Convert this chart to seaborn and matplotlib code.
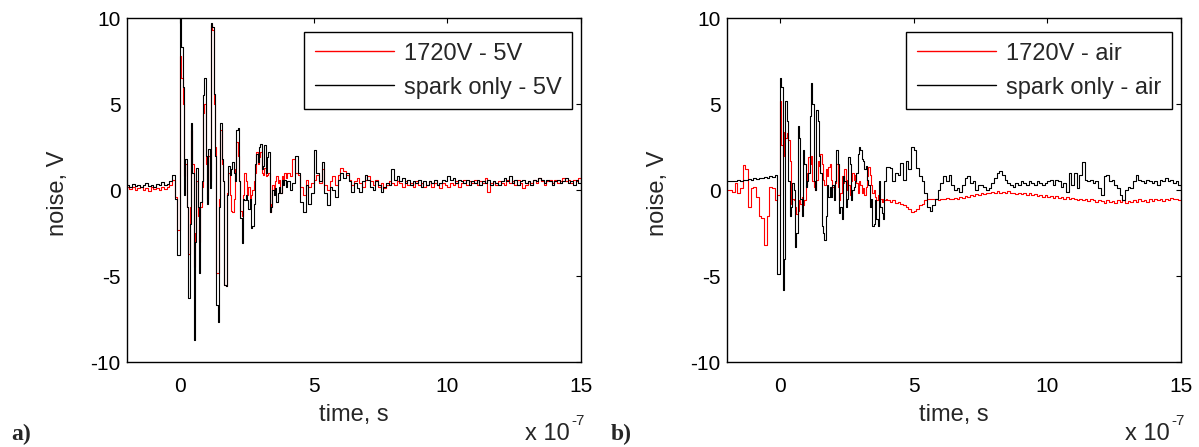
import matplotlib
matplotlib.use("Agg")
import matplotlib.pyplot as plt
import seaborn as sns
import pandas as pd

# ---------------- data (time in units of 1e-7 s, noise in V) ----------------
t_pre = [-2.0, -1.9, -1.8, -1.7, -1.6, -1.5, -1.4, -1.3, -1.2, -1.1,
         -1.0, -0.9, -0.8, -0.7, -0.6, -0.5, -0.4, -0.3, -0.2, -0.1]
t_burst = [0.00, 0.05, 0.10, 0.15, 0.20, 0.25, 0.30, 0.35, 0.40, 0.45,
           0.50, 0.55, 0.60, 0.65, 0.70, 0.75, 0.80, 0.85, 0.90, 0.95,
           1.00, 1.05, 1.10, 1.15, 1.20, 1.25, 1.30, 1.35, 1.40, 1.45,
           1.50, 1.55, 1.60, 1.65, 1.70, 1.75, 1.80, 1.85, 1.90, 1.95,
           2.00, 2.05, 2.10, 2.15, 2.20, 2.25, 2.30, 2.35, 2.40, 2.45,
           2.50, 2.55, 2.60, 2.65, 2.70, 2.75, 2.80, 2.85, 2.90, 2.95,
           3.00, 3.05, 3.10, 3.15, 3.20, 3.25, 3.30, 3.35, 3.40, 3.45,
           3.50, 3.55, 3.60, 3.65, 3.70, 3.75, 3.80, 3.85, 3.90, 3.95]
t_tail = [4.0, 4.1, 4.2, 4.3, 4.4, 4.5, 4.6, 4.7, 4.8, 4.9,
          5.0, 5.1, 5.2, 5.3, 5.4, 5.5, 5.6, 5.7, 5.8, 5.9,
          6.0, 6.1, 6.2, 6.3, 6.4, 6.5, 6.6, 6.7, 6.8, 6.9,
          7.0, 7.1, 7.2, 7.3, 7.4, 7.5, 7.6, 7.7, 7.8, 7.9,
          8.0, 8.1, 8.2, 8.3, 8.4, 8.5, 8.6, 8.7, 8.8, 8.9,
          9.0, 9.1, 9.2, 9.3, 9.4, 9.5, 9.6, 9.7, 9.8, 9.9,
          10.0, 10.1, 10.2, 10.3, 10.4, 10.5, 10.6, 10.7, 10.8, 10.9,
          11.0, 11.1, 11.2, 11.3, 11.4, 11.5, 11.6, 11.7, 11.8, 11.9,
          12.0, 12.1, 12.2, 12.3, 12.4, 12.5, 12.6, 12.7, 12.8, 12.9,
          13.0, 13.1, 13.2, 13.3, 13.4, 13.5, 13.6, 13.7, 13.8, 13.9,
          14.0, 14.1, 14.2, 14.3, 14.4, 14.5, 14.6, 14.7, 14.8, 14.9,
          15.0]

# panel a) : 1720V - 5V (red) and spark only - 5V (black)
red_a_pre = [0.2, 0.05, 0.15, 0.0, 0.1, 0.2, 0.0, 0.1, -0.05, 0.15,
             0.05, 0.1, 0.0, 0.15, 0.05, 0.2, 0.3, 0.6, -0.4, -2.3]
red_a_burst = [7.8, 6.5, 5.0, 0.8, 1.5, -1.0, -3.7, -1.0, 3.5, 1.5,
               -4.5, -2.5, 0.5, -1.5, -3.0, -1.0, 0.2, 4.5, 5.0, 1.5,
               -0.5, 2.0, 0.5, 9.6, 9.3, 5.0, 2.5, -4.8, -4.8, -0.5,
               3.5, 1.5, 0.5, -5.5, -5.6, -0.2, 1.0, -0.3, -1.2, -1.3,
               -0.5, 1.2, 2.8, 2.0, 0.5, -1.2, -1.5, -0.3, 1.0, 0.5,
               -0.3, 0.2, -0.5, -0.3, 0.0, 0.5, 1.0, 2.2, 1.5, 1.9,
               2.2, 1.0, 0.9, 1.3, 0.8, 0.9, 1.0, -1.3, -0.8, 0.3,
               0.0, 0.5, 0.8, 0.4, 0.6, -0.2, 0.8, 0.5, 1.0, 0.7]
red_a_tail = [1.0, 0.8, 1.8, 1.0, 0.9, 0.2, -0.3, 0.6, 0.2, 0.4,
              0.6, 0.9, 0.4, 1.2, 0.3, 0.0, 0.5, 0.8, 0.3, 0.9,
              1.3, 1.1, 0.9, 0.6, 0.3, 0.5, 0.7, 0.4, 0.2, 0.6,
              0.8, 0.5, 0.3, 0.6, 0.2, 0.4, 0.1, 0.3, 0.5, 0.4,
              0.3, 0.5, 0.4, 0.2, 0.5, 0.3, 0.4, 0.2, 0.5, 0.3,
              0.4, 0.2, 0.3, 0.5, 0.2, 0.4, 0.3, 0.1, 0.4, 0.3,
              0.2, 0.4, 0.3, 0.5, 0.2, 0.4, 0.6, 0.3, 0.5, 0.4,
              0.6, 0.3, 0.5, 0.4, 0.7, -0.1, 0.4, 0.5, 0.3, 0.5,
              0.4, 0.3, 0.6, 0.4, 0.5, 0.3, 0.6, 0.4, 0.1, 0.3,
              0.5, 0.4, 0.6, 0.4, 0.7, 0.5, 0.3, 0.5, 0.6, 0.4,
              0.6, 0.4, 0.5, 0.7, 0.5, 0.6, 0.4, 0.6, 0.5, 0.7,
              0.6]
black_a_pre = [0.3, 0.2, 0.35, 0.25, 0.3, 0.15, 0.3, 0.4, 0.25, 0.3,
               0.2, 0.35, 0.3, 0.45, 0.3, 0.35, 0.5, 0.9, -0.5, -3.8]
black_a_burst = [10.0, 8.3, 6.0, -0.3, 1.8, -1.0, -6.3, -2.0, 3.9, 1.0,
                 -8.7, -3.0, 1.3, -1.0, -4.8, -0.7, 0.5, 5.5, 6.5, 2.0,
                 -0.8, 2.4, 0.1, 9.7, 9.5, 5.6, 2.0, -6.7, -7.7, -1.0,
                 3.9, 1.8, 0.5, -5.5, -5.6, -0.3, 1.4, 0.9, 1.2, 1.6,
                 1.0, 0.5, 3.5, 3.6, 0.5, -1.6, -3.1, -0.5, -0.6, -0.3,
                 -0.6, -1.1, -0.5, -2.2, -2.1, -0.8, 1.5, 2.1, 1.6, 2.5,
                 2.7, 1.2, 1.4, 2.6, 1.0, 1.9, 2.2, -1.3, -1.0, 0.0,
                 -0.3, 0.1, -0.7, -0.2, 0.2, -0.2, 0.6, 0.3, 0.6, 0.2]
black_a_tail = [0.5, 0.0, 0.4, 2.0, 1.0, -0.7, -1.3, 0.3, -0.8, -0.2,
                2.3, 1.0, 0.5, 1.6, -0.2, -0.9, 0.2, 0.0, -0.4, 0.6,
                1.0, 0.7, 1.0, 0.5, -0.1, 0.4, 0.1, -0.1, 0.5, 0.9,
                0.6, 0.2, 0.0, 0.5, 0.3, -0.1, 0.2, 0.4, 0.3, 1.2,
                0.6, 0.8, 0.5, 0.7, 0.4, 0.6, 0.3, 0.5, 0.4, 0.6,
                0.2, 0.5, 0.3, 0.5, 0.4, 0.6, 0.3, 0.4, 0.6, 0.5,
                0.8, 0.6, 0.7, 0.4, 0.6, 0.5, 0.4, 0.6, 0.3, 0.5,
                0.4, 0.6, 0.3, 0.5, 0.4, 0.6, 0.3, 0.5, 0.4, 0.3,
                0.5, 0.7, 0.5, 0.8, 0.4, 0.6, 0.3, 0.5, 0.6, 0.4,
                0.5, 0.3, 0.6, 0.5, 0.7, 0.6, 0.4, 0.6, 0.5, 0.3,
                0.5, 0.6, 0.4, 0.5, 0.7, 0.4, 0.5, 0.3, 0.6, 0.4,
                0.5]

# panel b) : 1720V - air (red) and spark only - air (black)
red_b_pre = [0.0, 0.0, -0.1, 0.4, -0.2, 0.1, 1.45, 1.2, -1.0, 0.1,
             0.2, -0.4, -1.5, -1.6, -3.2, -1.5, 0.2, 0.1, -0.6, -0.3]
red_b_burst = [5.2, 2.6, 2.0, 3.4, 3.0, 3.3, 2.9, 1.7, -0.8, -0.5,
               -0.6, -1.0, -1.4, -1.2, -0.6, -0.8, -0.4, -0.9, -0.6, 0.3,
               1.0, 1.9, 1.5, 2.0, 0.5, 0.2, 0.0, 0.6, 1.7, 1.4,
               2.1, 1.5, 0.6, 0.3, 1.2, 0.8, 1.35, 1.5, 0.6, 0.2,
               0.0, 0.4, 1.5, 0.2, -0.6, -0.2, 0.8, 0.4, 1.2, 0.6,
               0.0, 0.3, -0.3, 0.5, 1.0, 0.6, 0.9, 0.4, -0.2, 0.5,
               0.3, -0.2, 0.1, -0.3, 0.2, 0.8, 1.35, 0.9, 0.3, -0.2,
               0.0, -0.4, -0.6, -0.3, -0.6, -0.5, -0.7, -0.5, -0.6, -0.55]
red_b_tail = [-0.6, -0.7, -0.6, -0.75, -0.7, -0.8, -0.9, -1.0, -1.1, -1.25,
              -1.2, -1.1, -0.9, -0.8, -0.6, -0.55, -0.5, -0.55, -0.5, -0.6,
              -0.5, -0.55, -0.45, -0.5, -0.55, -0.45, -0.5, -0.4, -0.45, -0.35,
              -0.4, -0.3, -0.35, -0.25, -0.3, -0.2, -0.25, -0.15, -0.2, -0.1,
              -0.15, -0.05, -0.2, -0.1, -0.15, -0.05, -0.2, -0.15, -0.25, -0.15,
              -0.25, -0.2, -0.3, -0.2, -0.3, -0.25, -0.35, -0.3, -0.4, -0.3,
              -0.4, -0.35, -0.45, -0.35, -0.45, -0.4, -0.5, -0.4, -0.55, -0.45,
              -0.5, -0.6, -0.5, -0.6, -0.55, -0.65, -0.55, -0.6, -0.7, -0.6,
              -0.65, -0.75, -0.6, -0.7, -0.65, -0.75, -0.6, -0.7, -0.6, -0.75,
              -0.65, -0.7, -0.6, -0.7, -0.55, -0.65, -0.6, -0.7, -0.55, -0.65,
              -0.5, -0.6, -0.55, -0.65, -0.5, -0.6, -0.45, -0.55, -0.5, -0.6,
              -0.5]
black_b_pre = [0.5, 0.5, 0.55, 0.5, 0.6, 0.55, 0.6, 0.6, 0.65, 0.6,
               0.7, 0.65, 0.7, 0.7, 0.75, 0.7, 0.8, 0.75, 0.85, -4.9]
black_b_burst = [6.5, 6.0, -5.8, -4.0, 5.2, 4.0, 0.5, -1.5, -1.0, 0.4,
                 0.0, -3.3, -2.5, 3.7, 3.0, -0.5, -1.5, 2.3, 1.5, 0.2,
                 0.5, 1.0, 4.3, 6.2, 5.0, 0.5, 0.0, 4.65, 4.0, 2.0,
                 1.0, -2.1, -2.5, -2.9, -1.5, 0.3, -0.4, 0.2, -0.4, 0.3,
                 -0.6, 0.5, 2.3, 1.5, -1.35, -1.0, -1.7, 0.8, 0.5, -1.0,
                 -0.5, 1.9, 1.5, -0.6, 0.0, 0.2, 0.5, 1.0, 2.1, 2.5,
                 2.3, 1.8, 1.7, 1.2, 1.4, 0.6, 0.3, -1.0, -0.5, -2.1,
                 -2.0, -0.6, -1.7, -2.1, 0.5, -1.0, -1.35, -1.7, 0.5, 1.35]
black_b_tail = [1.35, 1.3, 0.5, 1.0, 0.9, 1.55, 0.6, 1.7, 1.2, 2.5,
                2.3, 1.3, 0.8, 0.5, -0.2, -1.0, -1.2, -0.9, -0.5, 0.0,
                0.4, 0.8, 0.5, 0.85, 0.3, 0.0, 0.1, -0.1, 0.3, 0.7,
                0.8, 0.4, 0.5, 0.0, 0.3, 0.3, 0.2, 0.0, 0.1, 0.4,
                0.7, 1.0, 1.1, 0.9, 0.6, 0.4, 0.3, 0.2, 0.4, 0.3,
                0.5, 0.4, 0.3, 0.5, 0.4, 0.3, 0.5, 0.4, 0.3, 0.4,
                0.5, 0.6, 0.3, 0.6, 0.5, 0.2, 0.4, -0.1, 1.0, 0.3,
                1.0, 0.1, 0.9, 1.6, 0.6, 0.5, 0.6, 0.4, 0.5, 0.1,
                -0.3, 0.8, 0.9, 0.5, 0.6, 0.3, 0.1, -0.3, -0.6, 0.0,
                0.2, 0.1, 0.5, 0.9, 0.6, 0.5, 0.4, 0.6, 0.5, 0.4,
                0.5, 0.3, 0.6, 0.5, 0.7, 0.5, 0.6, 0.4, 0.5, 0.3,
                0.2]

labels_a = ["1720V - 5V", "spark only - 5V"]
labels_b = ["1720V - air", "spark only - air"]
x_ticks = [0, 5, 10, 15]
y_ticks = [-10, -5, 0, 5, 10]
panel_tags = ["a)", "b)"]

# ---------------- style ----------------
sns.set_style("white")
plt.rcParams["font.family"] = ["Liberation Sans", "DejaVu Sans"]
plt.rcParams["axes.unicode_minus"] = False
FS_TICK = 15
FS = 17

W, H = 1199, 447
fig = plt.figure(figsize=(W / 100, H / 100), dpi=100)


def rect(l, r, t, b):
    return [l / W, 1 - b / H, (r - l) / W, (b - t) / H]


ax_a = fig.add_axes(rect(126.7, 581, 18, 362))
ax_b = fig.add_axes(rect(726.7, 1181, 18, 362))

time = t_pre + t_burst + t_tail
panels = [
    (ax_a, red_a_pre + red_a_burst + red_a_tail,
     black_a_pre + black_a_burst + black_a_tail, labels_a),
    (ax_b, red_b_pre + red_b_burst + red_b_tail,
     black_b_pre + black_b_burst + black_b_tail, labels_b),
]

for ax, red, black, labs in panels:
    df = pd.DataFrame({"t": time, "red": red, "black": black})
    sns.lineplot(data=df, x="t", y="red", ax=ax, color="#ff0000", lw=0.8,
                 drawstyle="steps-post", estimator=None, label=labs[0])
    sns.lineplot(data=df, x="t", y="black", ax=ax, color="#000000", lw=0.8,
                 drawstyle="steps-post", estimator=None, label=labs[1])
    ax.set_xlim(-2, 15)
    ax.set_ylim(-10, 10)
    ax.set_xticks(x_ticks)
    ax.set_xticklabels([str(v) for v in x_ticks])
    ax.set_yticks(y_ticks)
    ax.set_yticklabels([str(v) for v in y_ticks])
    ax.tick_params(direction="in", top=True, right=True, length=3.5,
                   width=0.8, labelsize=FS_TICK, colors="black")
    ax.tick_params(axis="x", pad=10.5)
    ax.tick_params(axis="y", pad=4.5)
    for s in ax.spines.values():
        s.set_color("black")
        s.set_linewidth(1.0)
    ax.set_xlabel("time, s", fontsize=FS, labelpad=6)
    ax.set_ylabel("noise, V", fontsize=FS)
    ax.yaxis.set_label_coords(-0.128, 0.49)
    leg = ax.legend(loc="upper right", bbox_to_anchor=(0.980, 0.959),
                    frameon=True, fancybox=False, shadow=False,
                    edgecolor="black", framealpha=1, fontsize=FS,
                    handlelength=3.35, handletextpad=0.42,
                    labelspacing=0.5, borderpad=0.45, borderaxespad=0)
    leg.get_frame().set_linewidth(1.0)
    for line in leg.get_lines():
        line.set_linewidth(1.0)

# exponent labels and panel tags
for xr in (581, 1181):
    fig.text((xr - 11) / W, 1 - 440 / H, "x 10", fontsize=FS,
             ha="right", va="baseline")
    fig.text((xr - 10) / W, 1 - 425 / H, "-7", fontsize=11,
             ha="left", va="baseline")
for xl, tag in zip((11, 611), panel_tags):
    fig.text(xl / W, 1 - 440 / H, tag, fontsize=17, fontweight="bold",
             family=["Liberation Serif", "DejaVu Serif"], va="baseline")

fig.savefig("out.png", dpi=100)
